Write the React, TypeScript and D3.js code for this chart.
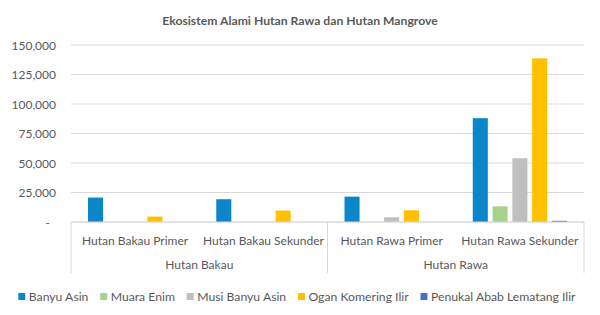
import React, { useLayoutEffect, useRef, useState } from "react";
import * as d3 from "d3";

const groups = ["Hutan Bakau", "Hutan Rawa"];
const categories = ["Hutan Bakau Primer", "Hutan Bakau Sekunder", "Hutan Rawa Primer", "Hutan Rawa Sekunder"];
const categoryGroup = ["Hutan Bakau", "Hutan Bakau", "Hutan Rawa", "Hutan Rawa"];
const seriesNames = ["Banyu Asin", "Muara Enim", "Musi Banyu Asin", "Ogan Komering Ilir", "Penukal Abab Lematang Ilir"];
const seriesColors = ["#0A86C9", "#A9D18E", "#BFBFBF", "#FFC000", "#4472C4"];
const banyuAsin = [20700, 19300, 21500, 88000];
const muaraEnim = [0, 0, 0, 13300];
const musiBanyuAsin = [0, 0, 4000, 54000];
const oganKomeringIlir = [4600, 9700, 9900, 138700];
const penukal = [0, 0, 0, 1000];
const seriesValues = [banyuAsin, muaraEnim, musiBanyuAsin, oganKomeringIlir, penukal];
const yTicks = [0, 25000, 50000, 75000, 100000, 125000, 150000];
const title = "Ekosistem Alami Hutan Rawa dan Hutan Mangrove";

const W = 600, H = 315;
const FONT = "Lato, 'Open Sans', sans-serif";
const TXT = "#595959";
const GRID = "#D9D9D9";

export default function App() {
  const measureRefs = useRef<(SVGTextElement | null)[]>([]);
  const [widths, setWidths] = useState<number[] | null>(null);

  useLayoutEffect(() => {
    const w = measureRefs.current.map((el) => (el ? el.getComputedTextLength() : 0));
    setWidths(w);
  }, []);

  const left = 71, right = 584, top = 45, bottom = 222;
  const x0 = d3.scaleBand<string>().domain(categories).range([left, right]).padding(0);
  const x1 = d3.scaleBand<string>().domain(seriesNames).range([0, x0.bandwidth()]).paddingInner(0.24).paddingOuter(0.86);
  const y = d3.scaleLinear().domain([0, 150000]).range([bottom, top]);
  const fmt = (v: number) => (v === 0 ? "-" : d3.format(",")(v));

  const groupExtents = groups.map((g) => {
    const cats = categories.filter((_, i) => categoryGroup[i] === g);
    const x0s = x0(cats[0])!;
    const x1s = x0(cats[cats.length - 1])! + x0.bandwidth();
    return { g, x0s, x1s };
  });
  const separators = [left, ...groupExtents.map((e) => e.x1s)];

  // legend layout: fit total text width to the reference's
  const totalRef = 59 + 65.7 + 87.3 + 99.5 + 146.6;
  const w12 = widths ?? seriesNames.map((s) => s.length * 6);
  const total12 = w12.reduce((a, b) => a + b, 0);
  const scale = totalRef / total12;
  const legendFont = 12 * scale;
  let lx = 18.3;
  const legendItems = seriesNames.map((s, i) => {
    const item = { s, i, x: lx };
    lx += 10.5 + w12[i] * scale + 11.7;
    return item;
  });

  return (
    <svg width={W} height={H} style={{ position: "absolute", left: 0, top: 0, background: "#fff" }} fontFamily={FONT}>
      <rect width={W} height={H} fill="#fff" />
      <g opacity={0}>
        {seriesNames.map((s, i) => (
          <text key={s} ref={(el) => { measureRefs.current[i] = el; }} x={0} y={-50} fontSize={12}>{s}</text>
        ))}
      </g>
      <text x={300} y={24.5} textAnchor="middle" fontSize={12.2} fontWeight="bold" fill={TXT}>{title}</text>
      {yTicks.map((t) => (
        <g key={t}>
          <line x1={left} x2={right} y1={y(t)} y2={y(t)} stroke={GRID} strokeWidth={1} />
          <text x={t === 0 ? 50 : 56} y={y(t) + 4.5} textAnchor="end" fontSize={12} fill={TXT}>{fmt(t)}</text>
        </g>
      ))}
      {seriesValues.map((vals, si) =>
        vals.map((v, ci) =>
          v > 0 ? (
            <rect key={`${si}-${ci}`} x={x0(categories[ci])! + x1(seriesNames[si])!} y={y(v)} width={x1.bandwidth()} height={y(0) - y(v)} fill={seriesColors[si]} />
          ) : null
        )
      )}
      <line x1={left} x2={right} y1={bottom} y2={bottom} stroke={GRID} />
      {separators.map((sx, i) => (
        <line key={i} x1={sx} x2={sx} y1={bottom} y2={273} stroke={GRID} />
      ))}
      {categories.map((c) => (
        <text key={c} x={x0(c)! + x0.bandwidth() / 2} y={245} textAnchor="middle" fontSize={12} fill={TXT}>{c}</text>
      ))}
      {groupExtents.map((e) => (
        <text key={e.g} x={(e.x0s + e.x1s) / 2} y={269} textAnchor="middle" fontSize={12} fill={TXT}>{e.g}</text>
      ))}
      {legendItems.map((it) => (
        <g key={it.s}>
          <rect x={it.x} y={293} width={7} height={7} fill={seriesColors[it.i]} />
          <text x={it.x + 10.5} y={301} fontSize={legendFont} fill={TXT}>{it.s}</text>
        </g>
      ))}
    </svg>
  );
}
